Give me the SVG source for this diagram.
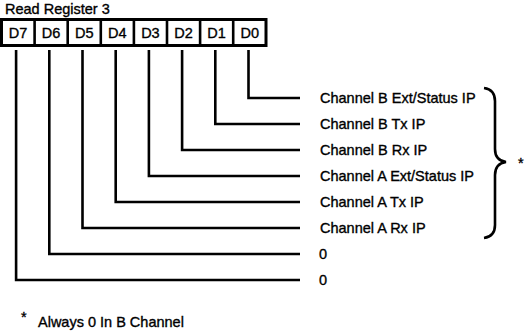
<svg xmlns="http://www.w3.org/2000/svg" width="526" height="333" viewBox="0 0 526 333">
<style>
text{font-family:"Liberation Sans",Arial,sans-serif;font-size:14.5px;fill:#000;stroke:#000;stroke-width:0.35px}
.c{text-anchor:middle}
.ln{fill:none;stroke:#000;stroke-width:2.6;stroke-linejoin:miter;stroke-linecap:butt}
.box{fill:#fff;stroke:#000;stroke-width:3}
</style>
<rect width="526" height="333" fill="#fff"/>
<text x="5" y="14">Read Register 3</text>
<g id="register">
<rect class="box" x="1.5" y="19.5" width="264.5" height="26"/>
<path class="ln" stroke-width="3" d="M34.6 19.5V45.5M67.7 19.5V45.5M100.8 19.5V45.5M133.9 19.5V45.5M167 19.5V45.5M200.1 19.5V45.5M233.2 19.5V45.5"/>
<g id="d7"><text class="c" x="18" y="38">D7</text></g>
<g id="d6"><text class="c" x="51.1" y="38">D6</text></g>
<g id="d5"><text class="c" x="84.2" y="38">D5</text></g>
<g id="d4"><text class="c" x="117.3" y="38">D4</text></g>
<g id="d3"><text class="c" x="150.4" y="38">D3</text></g>
<g id="d2"><text class="c" x="183.5" y="38">D2</text></g>
<g id="d1"><text class="c" x="216.6" y="38">D1</text></g>
<g id="d0"><text class="c" x="249.7" y="38">D0</text></g>
</g>
<g id="connectors">
<path class="ln" d="M248.5 50V98H300"/>
<path class="ln" d="M215.3 50V124H300"/>
<path class="ln" d="M182.1 50V150H300"/>
<path class="ln" d="M148.9 50V176H300"/>
<path class="ln" d="M115.7 50V202H300"/>
<path class="ln" d="M82.5 50V228H300"/>
<path class="ln" d="M49.3 50V254H300"/>
<path class="ln" d="M16.1 50V280H300"/>
</g>
<g id="labels">
<text x="320" y="103">Channel B Ext/Status IP</text>
<text x="320" y="129">Channel B Tx IP</text>
<text x="320" y="155">Channel B Rx IP</text>
<text x="320" y="181">Channel A Ext/Status IP</text>
<text x="320" y="207">Channel A Tx IP</text>
<text x="320" y="233">Channel A Rx IP</text>
<text x="319" y="259">0</text>
<text x="319" y="285">0</text>
</g>
<g id="brace">
<path class="ln" d="M484 88C491 89 495 93 495 101V149C495 157 499 161 506 162C499 163 495 167 495 175V225C495 233 491 237 484 238"/>
<text x="518" y="168">*</text>
</g>
<g id="footnote">
<text x="21" y="322">*</text>
<text x="38" y="327">Always 0 In B Channel</text>
</g>
</svg>
